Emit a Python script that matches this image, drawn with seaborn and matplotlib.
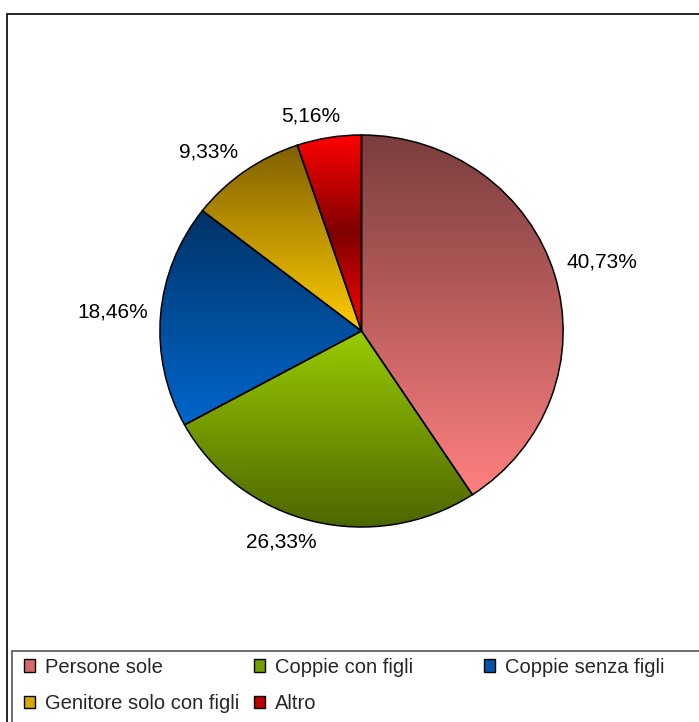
import numpy as np
import matplotlib
matplotlib.use("Agg")
import matplotlib.pyplot as plt
import seaborn as sns
from matplotlib.colors import LinearSegmentedColormap
from matplotlib.patches import Patch, Rectangle

# data (clockwise from 12 o'clock)
categories = ["Persone sole", "Coppie con figli", "Coppie senza figli",
              "Genitore solo con figli", "Altro"]
shares = [40.73, 26.33, 18.46, 9.33, 5.16]

# vertical gradient fills, top -> bottom of each slice
gradients = [
    ["#7a3d3d", "#ff8080"],
    ["#99cc00", "#4d6600"],
    ["#003366", "#0066cc"],
    ["#806000", "#ffcc00"],
    ["#ff0000", "#800000", "#ff0000"],
]
legend_colors = ["#d46a6a", "#73a000", "#0055aa", "#d9a800", "#c00000"]

sns.set_theme(style="white")
plt.rcParams["font.family"] = ["Liberation Sans", "DejaVu Sans"]

fig = plt.figure(figsize=(6.99, 7.22), dpi=100)
ax = fig.add_axes([0.1567, 0.2022, 0.721, 0.6787])

wedges, _, pcts = ax.pie(
    shares, startangle=90, counterclock=False,
    autopct=lambda p: f"{p:.2f}%".replace(".", ","), pctdistance=1.18,
    wedgeprops=dict(edgecolor="black", linewidth=1.1),
    textprops=dict(fontsize=15, color="black"))

grad = np.linspace(0, 1, 256).reshape(-1, 1)
for w, cols in zip(wedges, gradients):
    bb = w.get_path().get_extents()
    cmap = LinearSegmentedColormap.from_list("g", cols)
    im = ax.imshow(grad, cmap=cmap, aspect="auto", origin="upper",
                   extent=[bb.x0, bb.x1, bb.y0, bb.y1], zorder=1,
                   interpolation="bilinear")
    im.set_clip_path(w)
    w.set_facecolor("none")
    w.set_zorder(2)

ax.set_xlim(-1.25, 1.25)
ax.set_ylim(-1.25, 1.25)
ax.set_aspect("auto")
ax.axis("off")

# place each percentage just outside the slice edge (Excel "outside end")
fig.canvas.draw()
rend = fig.canvas.get_renderer()
c0 = ax.transData.transform((0, 0))
rx = ax.transData.transform((1, 0))[0] - c0[0]
ry = ax.transData.transform((0, 1))[1] - c0[1]
gap = 12
for w, t in zip(wedges, pcts):
    th = np.deg2rad((w.theta1 + w.theta2) / 2)
    cx, sy = np.cos(th), np.sin(th)
    tb = t.get_window_extent(rend)
    hw, hh = tb.width / 2, tb.height / 2
    px = c0[0] + rx * cx + gap * cx + hw * np.clip(cx / 0.3, -1, 1)
    py = c0[1] + ry * sy + gap * sy + hh * np.clip(sy / 0.3, -1, 1)
    t.set_position(ax.transData.inverted().transform((px, py)))

# chart frame and legend frame
fig.add_artist(Rectangle((7 / 699, -0.1), 1.2, 1 - 14 / 722 + 0.1,
                         transform=fig.transFigure, fill=False,
                         edgecolor="black", lw=1.2))
fig.add_artist(Rectangle((12 / 699, -0.1), 1.2, 0.0983 + 0.1,
                         transform=fig.transFigure, fill=False,
                         edgecolor="#555555", lw=1.2))

# legend laid out as a 3-column grid
cols_x = [0.034, 0.363, 0.692]
rows_y = [0.076, 0.026]
for i, (name, c) in enumerate(zip(categories, legend_colors)):
    fig.legend(handles=[Patch(facecolor=c, edgecolor="black", linewidth=1.0)],
               labels=[name], loc="center left",
               bbox_to_anchor=(cols_x[i % 3], rows_y[i // 3]),
               frameon=False, fontsize=14.5, handlelength=0.55,
               handleheight=0.55, handletextpad=0.5, borderpad=0,
               borderaxespad=0)

fig.savefig("out.png", dpi=100)
